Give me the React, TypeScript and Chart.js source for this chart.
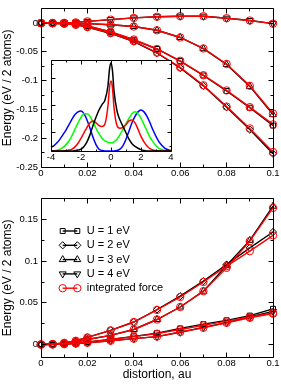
import React, { useEffect, useRef } from "react";
import { Chart, registerables } from "chart.js";
import { drawPoint } from "chart.js/helpers";

Chart.register(...registerables);

const FONT = "'Liberation Sans', Arial, Helvetica, sans-serif";

// ---------- data ----------
const distortion = [0, 0.005, 0.01, 0.015, 0.02, 0.03, 0.04, 0.05, 0.06, 0.07, 0.08, 0.09, 0.1];

const seriesLabels = ["U = 1 eV", "U = 2 eV", "U = 3 eV", "U = 4 eV"];
const forceLabel = "integrated force";

// top panel (black: total energy, red: integrated force)
const topU1 = [0, -0.0002, -0.0008, -0.002, -0.005, -0.0155, -0.029, -0.045, -0.066, -0.091, -0.118, -0.147, -0.178];
const topU2 = [0, -0.0003, -0.0012, -0.003, -0.007, -0.018, -0.032, -0.052, -0.078, -0.109, -0.146, -0.185, -0.227];
const topU3 = [0, 0, -0.0002, -0.0005, -0.001, -0.003, -0.006, -0.0125, -0.025, -0.0445, -0.072, -0.11, -0.159];
const topU4 = [0, 0.0001, 0.0005, 0.0012, 0.003, 0.006, 0.009, 0.011, 0.012, 0.012, 0.0085, 0.0045, -0.001];
const topF1 = [0, -0.0002, -0.0008, -0.002, -0.005, -0.015, -0.0285, -0.045, -0.0655, -0.0905, -0.117, -0.146, -0.176];
const topF2 = [0, -0.0003, -0.0012, -0.003, -0.007, -0.0175, -0.0315, -0.0515, -0.077, -0.108, -0.145, -0.183, -0.224];
const topF3 = [0, 0, -0.0002, -0.0005, -0.001, -0.003, -0.006, -0.0125, -0.025, -0.044, -0.071, -0.109, -0.157];
const topF4 = [0, 0.0001, 0.0005, 0.0012, 0.003, 0.006, 0.009, 0.011, 0.012, 0.012, 0.0085, 0.0045, -0.001];

// bottom panel
const botU1 = [0, 0.0002, 0.0008, 0.0017, 0.003, 0.0062, 0.0098, 0.0135, 0.0193, 0.0244, 0.029, 0.0347, 0.0428];
const botU2 = [0, 0.0005, 0.002, 0.0045, 0.0085, 0.017, 0.027, 0.042, 0.058, 0.076, 0.096, 0.116, 0.135];
const botU3 = [0, 0.0003, 0.0012, 0.003, 0.006, 0.011, 0.018, 0.03, 0.045, 0.064, 0.095, 0.125, 0.166];
const botU4 = [0, 0.0001, 0.0005, 0.0012, 0.002, 0.0045, 0.007, 0.0095, 0.0147, 0.0205, 0.0262, 0.033, 0.0397];
const botF1 = [0, 0.0002, 0.0008, 0.0016, 0.0028, 0.006, 0.0095, 0.013, 0.018, 0.023, 0.028, 0.033, 0.038];
const botF2 = [0, 0.0005, 0.002, 0.0045, 0.0085, 0.017, 0.027, 0.0415, 0.057, 0.075, 0.094, 0.112, 0.131];
const botF3 = [0, 0.0003, 0.0012, 0.003, 0.006, 0.011, 0.018, 0.03, 0.045, 0.064, 0.092, 0.124, 0.164];
const botF4 = [0, 0.0001, 0.0005, 0.0012, 0.002, 0.0045, 0.007, 0.0095, 0.015, 0.02, 0.026, 0.032, 0.037];

// inset curves
const insetE = [-4, -3.8, -3.6, -3.4, -3.2, -3, -2.8, -2.6, -2.4, -2.2, -2, -1.8, -1.6, -1.4, -1.2, -1, -0.8, -0.6, -0.4, -0.2, -0.1, 0, 0.1, 0.2, 0.4, 0.6, 0.8, 1, 1.2, 1.4, 1.6, 1.8, 2, 2.2, 2.4, 2.6, 2.8, 3, 3.2, 3.4, 3.6, 3.8, 4];
const insetBlack = [0, 0, 0, 0, 0, 0, 0, 0, 0.003, 0.01, 0.02, 0.05, 0.1, 0.18, 0.28, 0.37, 0.45, 0.51, 0.56, 0.72, 0.9, 0.97, 0.88, 0.66, 0.44, 0.34, 0.27, 0.2, 0.13, 0.08, 0.05, 0.03, 0.015, 0.005, 0, 0, 0, 0, 0, 0, 0, 0, 0];
const insetRed = [0, 0, 0, 0, 0, 0.005, 0.01, 0.02, 0.045, 0.085, 0.14, 0.2, 0.26, 0.31, 0.33, 0.31, 0.28, 0.27, 0.3, 0.5, 0.7, 0.77, 0.69, 0.48, 0.28, 0.25, 0.26, 0.29, 0.33, 0.34, 0.31, 0.24, 0.16, 0.1, 0.055, 0.025, 0.01, 0.005, 0, 0, 0, 0, 0];
const insetGreen = [0, 0.003, 0.008, 0.02, 0.04, 0.07, 0.11, 0.17, 0.24, 0.31, 0.37, 0.41, 0.41, 0.38, 0.32, 0.25, 0.19, 0.14, 0.11, 0.095, 0.09, 0.09, 0.09, 0.1, 0.13, 0.18, 0.24, 0.3, 0.36, 0.41, 0.43, 0.41, 0.36, 0.29, 0.22, 0.15, 0.1, 0.06, 0.03, 0.015, 0.006, 0.002, 0];
const insetBlue = [0.04, 0.06, 0.09, 0.13, 0.18, 0.23, 0.29, 0.35, 0.4, 0.43, 0.44, 0.41, 0.34, 0.25, 0.15, 0.07, 0.02, 0.005, 0, 0, 0, 0, 0, 0, 0.005, 0.02, 0.06, 0.13, 0.22, 0.31, 0.38, 0.43, 0.45, 0.43, 0.38, 0.31, 0.23, 0.16, 0.1, 0.06, 0.03, 0.015, 0.005];

// ticks
const xTickValues = [0, 0.02, 0.04, 0.06, 0.08, 0.1];
const xTickLabels = ["0", "0.02", "0.04", "0.06", "0.08", "0.1"];
const xMinorTicks = [0.01, 0.03, 0.05, 0.07, 0.09];
const topYTickValues = [0, -0.05, -0.1, -0.15, -0.2, -0.25];
const topYTickLabels = ["0", "-0.05", "-0.1", "-0.15", "-0.2", "-0.25"];
const topYMinorTicks = [-0.025, -0.075, -0.125, -0.175, -0.225];
const botYTickValues = [0, 0.05, 0.1, 0.15];
const botYTickLabels = ["0", "0.05", "0.1", "0.15"];
const botYMinorTicks = [0.025, 0.075, 0.125];
const insetXTickValues = [-4, -2, 0, 2, 4];
const insetXTickLabels = ["-4", "-2", "0", "2", "4"];
const insetXMinorTicks = [-3, -1, 1, 3];
const insetYTickValues = [0.2, 0.5, 0.8];
const insetYMinorTicks = [0.05, 0.35, 0.65, 0.95];

const yTitle = "Energy (eV / 2 atoms)";
const xTitle = "distortion, au";

// ---------- helpers ----------
const toPoints = (xs: number[], ys: number[]) => xs.map((x, i) => ({ x, y: ys[i] }));

const markerStyles = [
  { pointStyle: "rect", rotation: 0, radius: 3.5 },
  { pointStyle: "rectRot", rotation: 0, radius: 3.6 },
  { pointStyle: "triangle", rotation: 0, radius: 4 },
  { pointStyle: "triangle", rotation: 180, radius: 4 },
];

function buildDatasets(black: number[][], red: number[][]) {
  const ds: any[] = [];
  black.forEach((vals, i) =>
    ds.push({
      label: seriesLabels[i],
      data: toPoints(distortion, vals),
      borderColor: "#000000",
      borderWidth: 1.4,
      pointStyle: markerStyles[i].pointStyle,
      pointRotation: markerStyles[i].rotation,
      pointRadius: markerStyles[i].radius,
      pointBorderColor: "#000000",
      pointBackgroundColor: "rgba(0,0,0,0)",
      pointBorderWidth: 1,
      clip: false,
      order: 2,
    })
  );
  red.forEach((vals, i) =>
    ds.push({
      label: i === 0 ? forceLabel : "",
      data: toPoints(distortion, vals),
      borderColor: "#ff0000",
      borderWidth: 1.4,
      pointStyle: "circle",
      pointRotation: 0,
      pointRadius: 3.7,
      pointBorderColor: "#ff0000",
      pointBackgroundColor: "rgba(0,0,0,0)",
      pointBorderWidth: 1,
      clip: false,
      order: 1,
    })
  );
  return ds;
}

const frameTicks = {
  id: "frameTicks",
  beforeDraw(chart: any, _a: any, opts: any) {
    if (!opts || !opts.fill) return;
    const { ctx, chartArea: a } = chart;
    ctx.save();
    ctx.fillStyle = opts.fill;
    ctx.fillRect(a.left, a.top, a.right - a.left, a.bottom - a.top);
    ctx.restore();
  },
  afterDraw(chart: any, _a: any, opts: any) {
    const { ctx, chartArea: a } = chart;
    const xs = chart.scales.x;
    const ys = chart.scales.y;
    const snap = (p: number) => Math.floor(p) + 0.5;
    const L = snap(a.left), R = snap(a.right), T = snap(a.top), B = snap(a.bottom);
    ctx.save();
    ctx.strokeStyle = "#000";
    ctx.lineWidth = 1;
    ctx.beginPath();
    ctx.rect(L, T, R - L, B - T);
    const xt = (vals: number[], len: number) =>
      vals.forEach((v) => {
        const p = snap(xs.getPixelForValue(v));
        ctx.moveTo(p, B); ctx.lineTo(p, B - len);
        ctx.moveTo(p, T); ctx.lineTo(p, T + len);
      });
    const yt = (vals: number[], len: number) =>
      vals.forEach((v) => {
        const p = snap(ys.getPixelForValue(v));
        ctx.moveTo(L, p); ctx.lineTo(L + len, p);
        ctx.moveTo(R, p); ctx.lineTo(R - len, p);
      });
    xt(opts.xMajor || [], opts.majorLen);
    xt(opts.xMinor || [], opts.minorLen);
    yt(opts.yMajor || [], opts.majorLen);
    yt(opts.yMinor || [], opts.minorLen);
    ctx.stroke();
    ctx.restore();
  },
};

const lineLegend = {
  id: "lineLegend",
  afterDraw(chart: any, _a: any, opts: any) {
    if (!opts || !opts.display) return;
    const { ctx, chartArea: a } = chart;
    const items = chart.data.datasets.filter((d: any) => d.label);
    items.forEach((d: any, i: number) => {
      const y = a.top + opts.top + i * opts.step;
      const x1 = a.left + opts.left;
      const x2 = x1 + opts.symbolWidth;
      ctx.save();
      ctx.strokeStyle = d.borderColor;
      ctx.lineWidth = d.borderWidth;
      ctx.beginPath();
      ctx.moveTo(x1, y);
      ctx.lineTo(x2, y);
      ctx.stroke();
      ctx.lineWidth = d.pointBorderWidth;
      ctx.strokeStyle = d.pointBorderColor;
      ctx.fillStyle = "rgba(0,0,0,0)";
      [x1, x2].forEach((x) =>
        drawPoint(ctx, { pointStyle: d.pointStyle, rotation: d.pointRotation || 0, radius: d.pointRadius, borderWidth: d.pointBorderWidth } as any, x, y)
      );
      ctx.fillStyle = "#000";
      ctx.font = `${opts.fontSize}px ${FONT}`;
      ctx.textBaseline = "middle";
      ctx.textAlign = "left";
      ctx.fillText(d.label, x2 + opts.gap, y);
      ctx.restore();
    });
  },
};

const tickFont = { family: FONT, size: 9.5 };

function xScale(height: number, withTitle: boolean) {
  return {
    type: "linear",
    min: 0,
    max: 0.1,
    afterBuildTicks: (s: any) => { s.ticks = xTickValues.map((v) => ({ value: v })); },
    afterFit: (s: any) => { s.height = height; },
    ticks: { callback: (_v: any, i: number) => xTickLabels[i], font: tickFont, color: "#000", padding: 1, autoSkip: false, maxRotation: 0 },
    grid: { display: false, drawTicks: false },
    border: { display: false },
    title: { display: withTitle, text: xTitle, color: "#000", font: { family: FONT, size: 12 }, padding: { top: 0, bottom: 1.8 } },
  };
}

function yScale(min: number, max: number, values: number[], labels: string[]) {
  return {
    type: "linear",
    min,
    max,
    afterBuildTicks: (s: any) => { s.ticks = values.map((v) => ({ value: v })); },
    afterFit: (s: any) => { s.width = 41; },
    ticks: { callback: (_v: any, i: number) => labels[i], font: tickFont, color: "#000", padding: 3, autoSkip: false },
    grid: { display: false, drawTicks: false },
    border: { display: false },
    title: { display: true, text: yTitle, color: "#000", font: { family: FONT, size: 12 }, padding: { top: 0, bottom: 0 } },
  };
}

function mainConfig(datasets: any[], yMin: number, yMax: number, yVals: number[], yLabels: string[], yMinor: number[], xHeight: number, withTitle: boolean, legend: boolean): any {
  return {
    type: "line",
    data: { datasets },
    options: {
      responsive: false,
      animation: false,
      devicePixelRatio: 1,
      events: [],
      layout: { padding: { left: 0, right: 8, top: 2, bottom: 0 } },
      plugins: {
        legend: { display: false },
        tooltip: { enabled: false },
        frameTicks: { xMajor: xTickValues, xMinor: xMinorTicks, yMajor: yVals, yMinor, majorLen: 5, minorLen: 3 },
        lineLegend: { display: legend, top: 32.3, left: 21.7, symbolWidth: 14.6, gap: 9.4, step: 14.3, fontSize: 11 },
      },
      scales: { x: xScale(xHeight, withTitle), y: yScale(yMin, yMax, yVals, yLabels) },
    },
    plugins: [frameTicks, lineLegend],
  };
}

function insetConfig(): any {
  const curves = [
    { data: insetBlack, color: "#000000" },
    { data: insetRed, color: "#ff0000" },
    { data: insetGreen, color: "#00ff00" },
    { data: insetBlue, color: "#0000ff" },
  ];
  return {
    type: "line",
    data: {
      datasets: curves.map((c) => ({
        data: toPoints(insetE, c.data),
        borderColor: c.color,
        borderWidth: 1.5,
        pointRadius: 0,
        cubicInterpolationMode: "monotone",
        clip: 2,
      })),
    },
    options: {
      responsive: false,
      animation: false,
      devicePixelRatio: 1,
      events: [],
      layout: { padding: { left: 6, right: 6, top: 5, bottom: 0 } },
      plugins: {
        legend: { display: false },
        tooltip: { enabled: false },
        frameTicks: { fill: "#ffffff", xMajor: insetXTickValues, xMinor: insetXMinorTicks, yMajor: insetYTickValues, yMinor: insetYMinorTicks, majorLen: 4, minorLen: 2 },
      },
      scales: {
        x: {
          type: "linear",
          min: -4,
          max: 4,
          afterBuildTicks: (s: any) => { s.ticks = insetXTickValues.map((v) => ({ value: v })); },
          afterFit: (s: any) => { s.height = 19; },
          ticks: { callback: (_v: any, i: number) => insetXTickLabels[i], font: tickFont, color: "#000", padding: 1, autoSkip: false, maxRotation: 0 },
          grid: { display: false, drawTicks: false },
          border: { display: false },
        },
        y: { type: "linear", min: 0, max: 1, display: false },
      },
    },
    plugins: [frameTicks],
  };
}

export default function App() {
  const topRef = useRef<HTMLCanvasElement>(null);
  const insetRef = useRef<HTMLCanvasElement>(null);
  const botRef = useRef<HTMLCanvasElement>(null);

  useEffect(() => {
    const charts: Chart[] = [];
    if (topRef.current) {
      charts.push(
        new Chart(
          topRef.current,
          mainConfig(buildDatasets([topU1, topU2, topU3, topU4], [topF1, topF2, topF3, topF4]), -0.25, 0.025, topYTickValues, topYTickLabels, topYMinorTicks, 23, false, false)
        )
      );
    }
    if (insetRef.current) charts.push(new Chart(insetRef.current, insetConfig()));
    if (botRef.current) {
      charts.push(
        new Chart(
          botRef.current,
          mainConfig(buildDatasets([botU1, botU2, botU3, botU4], [botF1, botF2, botF3, botF4]), -0.015, 0.175, botYTickValues, botYTickLabels, botYMinorTicks, 27, true, true)
        )
      );
    }
    return () => charts.forEach((c) => c.destroy());
  }, []);

  return (
    <div style={{ position: "absolute", left: 0, top: 0, width: 281, height: 384, background: "#ffffff", overflow: "hidden" }}>
      <canvas ref={topRef} width={281} height={190} style={{ position: "absolute", left: 0, top: 0, width: 281, height: 190 }} />
      <canvas ref={botRef} width={281} height={194} style={{ position: "absolute", left: 0, top: 190, width: 281, height: 194 }} />
      <canvas ref={insetRef} width={132} height={115} style={{ position: "absolute", left: 45, top: 55, width: 132, height: 115 }} />
    </div>
  );
}
